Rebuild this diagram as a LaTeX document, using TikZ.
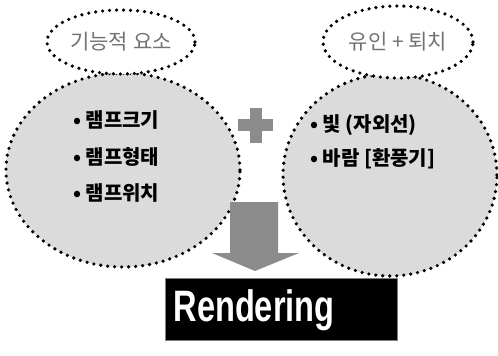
\documentclass[tikz,border=0pt]{standalone}
\usepackage{fontspec}
\setmainfont{Liberation Sans}
\newfontfamily\kr{Noto Sans CJK KR}
\usetikzlibrary{shapes.geometric}
\definecolor{circfill}{gray}{0.86}
\definecolor{labgray}{gray}{0.45}
\definecolor{markgray}{gray}{0.55}
\tikzset{
  dotline/.style={draw=black, line width=3.6pt, dash pattern=on 0pt off 7pt, line cap=round},
  bigcirc/.style={ellipse, dotline, fill=circfill, inner sep=0pt},
  labell/.style={ellipse, dotline, fill=white, inner sep=0pt, font=\kr\fontsize{21}{23}\selectfont, text=labgray},
  item/.style={anchor=west, font=\kr\bfseries\fontsize{20}{22}\selectfont, inner sep=0pt},
}
\begin{document}
\begin{tikzpicture}[x=1pt,y=-1pt]
\useasboundingbox (0,0) rectangle (498,356);
\fill[white] (0,0) rectangle (498,356);
% big circles
\node[bigcirc, minimum width=234pt, minimum height=194pt] (lc) at (123,170) {};
\node[bigcirc, minimum width=214pt, minimum height=202pt] (rc) at (390,175) {};
% label ellipses
\node[labell, minimum width=148pt, minimum height=64pt] (ll) at (121,42) {기능적 요소};
\node[labell, minimum width=150pt, minimum height=72pt] (rl) at (398,42) {유인 + 퇴치};
% items left
\node[item] (l1) at (73,120) {• 램프크기};
\node[item] (l2) at (73,157) {• 램프형태};
\node[item] (l3) at (73,193) {• 램프위치};
% items right
\node[item] (r1) at (310,125) {• 빛 (자외선)};
\node[item] (r2) at (310,159) {• 바람 [환풍기]};
% plus sign
\fill[markgray] (250,108) rectangle (262,143);
\fill[markgray] (238,119) rectangle (273,131);
% down arrow
\fill[markgray] (230,202) -- (278,202) -- (278,253) -- (299,253) -- (255,271) -- (212,253) -- (230,253) -- cycle;
% rendering box
\node[fill=black, draw=gray, line width=1pt, minimum width=232pt, minimum height=62pt, inner sep=0pt] (rend) at (281,309) {};
\node[text=white, inner sep=0pt, font=\bfseries\fontsize{44}{46}\selectfont] (rendtxt) at (254,310) {\scalebox{0.74}[1]{Rendering}};
\end{tikzpicture}
\end{document}
